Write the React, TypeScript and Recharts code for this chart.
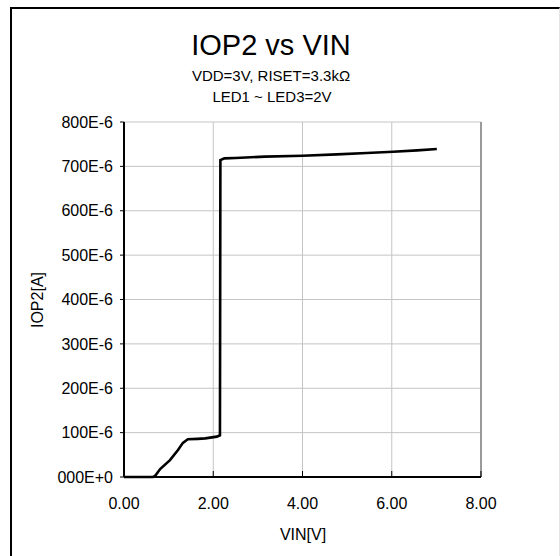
import React from 'react';
import { CartesianGrid, Line, LineChart, ReferenceLine, XAxis, YAxis } from 'recharts';

const vin = [0, 0.65, 0.7, 0.81, 1.03, 1.21, 1.32, 1.43, 1.65, 1.82, 2.08, 2.15, 2.16, 2.25, 2.5, 3.16, 4.0, 4.77, 5.44, 6.03, 6.57, 7.01];
const iop2 = [0, 0, 3e-6, 18e-6, 38e-6, 61e-6, 77e-6, 85e-6, 86e-6, 87e-6, 91e-6, 94e-6, 714e-6, 718e-6, 719e-6, 722e-6, 724e-6, 727e-6, 730e-6, 733e-6, 736e-6, 739e-6];
const xTicks = [0, 2, 4, 6, 8];
const yTicks = [0, 100e-6, 200e-6, 300e-6, 400e-6, 500e-6, 600e-6, 700e-6, 800e-6];

const data = vin.map((v, i) => ({ vin: v, iop2: iop2[i] }));

const FONT = '"Liberation Sans", Arial, sans-serif';

const fmtY = (v: number) => {
  const u = Math.round(v * 1e6);
  return u === 0 ? '000E+0' : `${u}E-6`;
};

function XTick({ x, y, payload }: any) {
  return (
    <g>
      <line x1={x} x2={x} y1={477} y2={471} stroke="#000" strokeWidth={1} />
      <text x={x} y={509} textAnchor="middle" fontSize={16} fontFamily={FONT} fill="#000">
        {Number(payload.value).toFixed(2)}
      </text>
    </g>
  );
}

export default function App() {
  return (
    <div style={{ position: 'absolute', left: 0, top: 0, width: 560, height: 556, overflow: 'hidden', background: '#fff' }}>
      <div
        style={{
          position: 'absolute',
          left: 10,
          top: 7,
          width: 550,
          height: 600,
          boxSizing: 'border-box',
          borderLeft: '2px solid #000',
          borderTop: '2px solid #000',
          borderRight: '1px solid #e4e4e4',
        }}
      />
      <div style={{ position: 'absolute', left: 0, top: 0 }}>
        <LineChart width={560} height={556} data={data} margin={{ top: 122, right: 79, bottom: 0, left: 0 }}>
          <CartesianGrid stroke="#c4c4c4" strokeWidth={1} />
          <XAxis
            dataKey="vin"
            type="number"
            domain={[0, 8]}
            ticks={xTicks}
            height={79}
            axisLine={{ stroke: '#000', strokeWidth: 2 }}
            tickLine={false}
            tick={<XTick />}
          />
          <YAxis
            type="number"
            domain={[0, 800e-6]}
            ticks={yTicks}
            width={124}
            tickFormatter={fmtY}
            tickSize={4}
            tickMargin={7}
            axisLine={{ stroke: '#000', strokeWidth: 2 }}
            tickLine={{ stroke: '#000' }}
            tick={{ fontSize: 16, fontFamily: FONT, fill: '#000' }}
          />
          <ReferenceLine x={8} stroke="#9a9a9a" strokeWidth={2} />
          <Line
            dataKey="iop2"
            type="linear"
            stroke="#000"
            strokeWidth={2.6}
            dot={false}
            isAnimationActive={false}
          />
        </LineChart>
      </div>
      <svg width={560} height={556} style={{ position: 'absolute', left: 0, top: 0, pointerEvents: 'none' }}>
        <g fontFamily={FONT} fill="#000" textAnchor="middle">
          <text x={271} y={55} fontSize={29}>IOP2 vs VIN</text>
          <text x={271} y={81} fontSize={15}>VDD=3V, RISET=3.3kΩ</text>
          <text x={272} y={102} fontSize={15}>LED1 ~ LED3=2V</text>
          <text x={303} y={540} fontSize={16}>VIN[V]</text>
          <text x={43} y={300} fontSize={16} transform="rotate(-90 43 300)">IOP2[A]</text>
        </g>
      </svg>
    </div>
  );
}
